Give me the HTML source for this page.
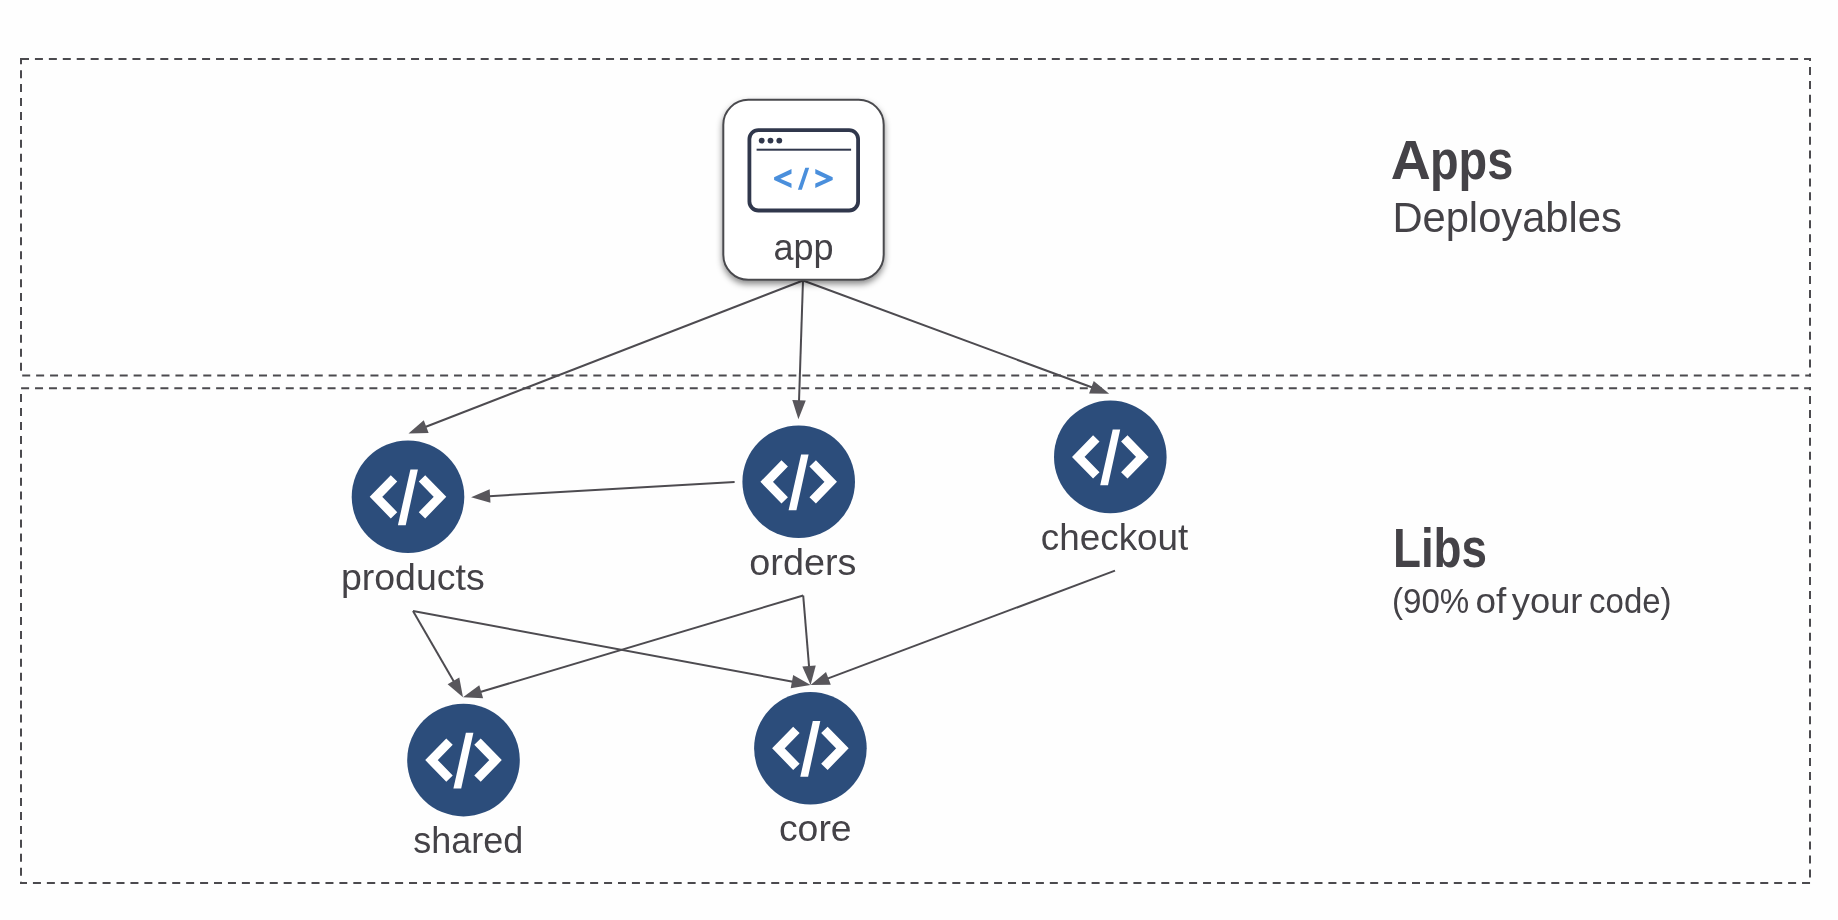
<!DOCTYPE html>
<html><head><meta charset="utf-8"><style>
html,body{margin:0;padding:0;background:#fefefe;overflow:hidden}
svg{display:block}
text{font-family:"Liberation Sans",sans-serif}
.tx{filter:url(#nf)}
</style></head><body>
<svg width="1838" height="920" viewBox="0 0 1838 920">
<defs><filter id="sh" x="-20%" y="-20%" width="140%" height="140%"><feDropShadow dx="0" dy="3.5" stdDeviation="3" flood-color="#000" flood-opacity="0.45"/></filter><filter id="nf"><feOffset dx="0" dy="0"/></filter></defs>
<rect x="0" y="0" width="1838" height="920" fill="#fefefe"/>
<path d="M21.00 59H29.00M34.93 59H42.93M48.86 59H56.86M62.79 59H70.79M76.72 59H84.72M90.65 59H98.65M104.58 59H112.58M118.51 59H126.51M132.44 59H140.44M146.37 59H154.37M160.30 59H168.30M174.23 59H182.23M188.16 59H196.16M202.09 59H210.09M216.02 59H224.02M229.95 59H237.95M243.88 59H251.88M257.81 59H265.81M271.74 59H279.74M285.67 59H293.67M299.60 59H307.60M313.53 59H321.53M327.46 59H335.46M341.39 59H349.39M355.32 59H363.32M369.25 59H377.25M383.18 59H391.18M397.11 59H405.11M411.04 59H419.04M424.97 59H432.97M438.90 59H446.90M452.83 59H460.83M466.76 59H474.76M480.69 59H488.69M494.62 59H502.62M508.55 59H516.55M522.48 59H530.48M536.41 59H544.41M550.34 59H558.34M564.27 59H572.27M578.20 59H586.20M592.13 59H600.13M606.06 59H614.06M619.99 59H627.99M633.92 59H641.92M647.85 59H655.85M661.78 59H669.78M675.71 59H683.71M689.64 59H697.64M703.57 59H711.57M717.50 59H725.50M731.43 59H739.43M745.36 59H753.36M759.29 59H767.29M773.22 59H781.22M787.15 59H795.15M801.08 59H809.08M815.01 59H823.01M828.94 59H836.94M842.87 59H850.87M856.80 59H864.80M870.73 59H878.73M884.66 59H892.66M898.59 59H906.59M912.52 59H920.52M926.45 59H934.45M940.38 59H948.38M954.31 59H962.31M968.24 59H976.24M982.17 59H990.17M996.10 59H1004.10M1010.03 59H1018.03M1023.96 59H1031.96M1037.89 59H1045.89M1051.82 59H1059.82M1065.75 59H1073.75M1079.68 59H1087.68M1093.61 59H1101.61M1107.54 59H1115.54M1121.47 59H1129.47M1135.40 59H1143.40M1149.33 59H1157.33M1163.26 59H1171.26M1177.19 59H1185.19M1191.12 59H1199.12M1205.05 59H1213.05M1218.98 59H1226.98M1232.91 59H1240.91M1246.84 59H1254.84M1260.77 59H1268.77M1274.70 59H1282.70M1288.63 59H1296.63M1302.56 59H1310.56M1316.49 59H1324.49M1330.42 59H1338.42M1344.35 59H1352.35M1358.28 59H1366.28M1372.21 59H1380.21M1386.14 59H1394.14M1400.07 59H1408.07M1414.00 59H1422.00M1427.93 59H1435.93M1441.86 59H1449.86M1455.79 59H1463.79M1469.72 59H1477.72M1483.65 59H1491.65M1497.58 59H1505.58M1511.51 59H1519.51M1525.44 59H1533.44M1539.37 59H1547.37M1553.30 59H1561.30M1567.23 59H1575.23M1581.16 59H1589.16M1595.09 59H1603.09M1609.02 59H1617.02M1622.95 59H1630.95M1636.88 59H1644.88M1650.81 59H1658.81M1664.74 59H1672.74M1678.67 59H1686.67M1692.60 59H1700.60M1706.53 59H1714.53M1720.46 59H1728.46M1734.39 59H1742.39M1748.32 59H1756.32M1762.25 59H1770.25M1776.18 59H1784.18M1790.11 59H1798.11M1804.04 59H1811.00" stroke="#4b4a4e" stroke-width="2" fill="none"/>
<path d="M1810 58.00V61.07M1810 67.00V75.00M1810 80.93V88.93M1810 94.86V102.86M1810 108.79V116.79M1810 122.72V130.72M1810 136.65V144.65M1810 150.58V158.58M1810 164.51V172.51M1810 178.44V186.44M1810 192.37V200.37M1810 206.30V214.30M1810 220.23V228.23M1810 234.16V242.16M1810 248.09V256.09M1810 262.02V270.02M1810 275.95V283.95M1810 289.88V297.88M1810 303.81V311.81M1810 317.74V325.74M1810 331.67V339.67M1810 345.60V353.60M1810 359.53V367.53M1810 373.46V376.60" stroke="#4b4a4e" stroke-width="2" fill="none"/>
<path d="M22.20 375.6H30.20M36.13 375.6H44.13M50.06 375.6H58.06M63.99 375.6H71.99M77.92 375.6H85.92M91.85 375.6H99.85M105.78 375.6H113.78M119.71 375.6H127.71M133.64 375.6H141.64M147.57 375.6H155.57M161.50 375.6H169.50M175.43 375.6H183.43M189.36 375.6H197.36M203.29 375.6H211.29M217.22 375.6H225.22M231.15 375.6H239.15M245.08 375.6H253.08M259.01 375.6H267.01M272.94 375.6H280.94M286.87 375.6H294.87M300.80 375.6H308.80M314.73 375.6H322.73M328.66 375.6H336.66M342.59 375.6H350.59M356.52 375.6H364.52M370.45 375.6H378.45M384.38 375.6H392.38M398.31 375.6H406.31M412.24 375.6H420.24M426.17 375.6H434.17M440.10 375.6H448.10M454.03 375.6H462.03M467.96 375.6H475.96M481.89 375.6H489.89M495.82 375.6H503.82M509.75 375.6H517.75M523.68 375.6H531.68M537.61 375.6H545.61M551.54 375.6H559.54M565.47 375.6H573.47M579.40 375.6H587.40M593.33 375.6H601.33M607.26 375.6H615.26M621.19 375.6H629.19M635.12 375.6H643.12M649.05 375.6H657.05M662.98 375.6H670.98M676.91 375.6H684.91M690.84 375.6H698.84M704.77 375.6H712.77M718.70 375.6H726.70M732.63 375.6H740.63M746.56 375.6H754.56M760.49 375.6H768.49M774.42 375.6H782.42M788.35 375.6H796.35M802.28 375.6H810.28M816.21 375.6H824.21M830.14 375.6H838.14M844.07 375.6H852.07M858.00 375.6H866.00M871.93 375.6H879.93M885.86 375.6H893.86M899.79 375.6H907.79M913.72 375.6H921.72M927.65 375.6H935.65M941.58 375.6H949.58M955.51 375.6H963.51M969.44 375.6H977.44M983.37 375.6H991.37M997.30 375.6H1005.30M1011.23 375.6H1019.23M1025.16 375.6H1033.16M1039.09 375.6H1047.09M1053.02 375.6H1061.02M1066.95 375.6H1074.95M1080.88 375.6H1088.88M1094.81 375.6H1102.81M1108.74 375.6H1116.74M1122.67 375.6H1130.67M1136.60 375.6H1144.60M1150.53 375.6H1158.53M1164.46 375.6H1172.46M1178.39 375.6H1186.39M1192.32 375.6H1200.32M1206.25 375.6H1214.25M1220.18 375.6H1228.18M1234.11 375.6H1242.11M1248.04 375.6H1256.04M1261.97 375.6H1269.97M1275.90 375.6H1283.90M1289.83 375.6H1297.83M1303.76 375.6H1311.76M1317.69 375.6H1325.69M1331.62 375.6H1339.62M1345.55 375.6H1353.55M1359.48 375.6H1367.48M1373.41 375.6H1381.41M1387.34 375.6H1395.34M1401.27 375.6H1409.27M1415.20 375.6H1423.20M1429.13 375.6H1437.13M1443.06 375.6H1451.06M1456.99 375.6H1464.99M1470.92 375.6H1478.92M1484.85 375.6H1492.85M1498.78 375.6H1506.78M1512.71 375.6H1520.71M1526.64 375.6H1534.64M1540.57 375.6H1548.57M1554.50 375.6H1562.50M1568.43 375.6H1576.43M1582.36 375.6H1590.36M1596.29 375.6H1604.29M1610.22 375.6H1618.22M1624.15 375.6H1632.15M1638.08 375.6H1646.08M1652.01 375.6H1660.01M1665.94 375.6H1673.94M1679.87 375.6H1687.87M1693.80 375.6H1701.80M1707.73 375.6H1715.73M1721.66 375.6H1729.66M1735.59 375.6H1743.59M1749.52 375.6H1757.52M1763.45 375.6H1771.45M1777.38 375.6H1785.38M1791.31 375.6H1799.31M1805.24 375.6H1811.00" stroke="#4b4a4e" stroke-width="2" fill="none"/>
<path d="M21 58.00V64.26M21 70.19V78.19M21 84.12V92.12M21 98.05V106.05M21 111.98V119.98M21 125.91V133.91M21 139.84V147.84M21 153.77V161.77M21 167.70V175.70M21 181.63V189.63M21 195.56V203.56M21 209.49V217.49M21 223.42V231.42M21 237.35V245.35M21 251.28V259.28M21 265.21V273.21M21 279.14V287.14M21 293.07V301.07M21 307.00V315.00M21 320.93V328.93M21 334.86V342.86M21 348.79V356.79M21 362.72V370.72" stroke="#4b4a4e" stroke-width="2" fill="none"/>
<path d="M21.10 388.2H29.10M35.03 388.2H43.03M48.96 388.2H56.96M62.89 388.2H70.89M76.82 388.2H84.82M90.75 388.2H98.75M104.68 388.2H112.68M118.61 388.2H126.61M132.54 388.2H140.54M146.47 388.2H154.47M160.40 388.2H168.40M174.33 388.2H182.33M188.26 388.2H196.26M202.19 388.2H210.19M216.12 388.2H224.12M230.05 388.2H238.05M243.98 388.2H251.98M257.91 388.2H265.91M271.84 388.2H279.84M285.77 388.2H293.77M299.70 388.2H307.70M313.63 388.2H321.63M327.56 388.2H335.56M341.49 388.2H349.49M355.42 388.2H363.42M369.35 388.2H377.35M383.28 388.2H391.28M397.21 388.2H405.21M411.14 388.2H419.14M425.07 388.2H433.07M439.00 388.2H447.00M452.93 388.2H460.93M466.86 388.2H474.86M480.79 388.2H488.79M494.72 388.2H502.72M508.65 388.2H516.65M522.58 388.2H530.58M536.51 388.2H544.51M550.44 388.2H558.44M564.37 388.2H572.37M578.30 388.2H586.30M592.23 388.2H600.23M606.16 388.2H614.16M620.09 388.2H628.09M634.02 388.2H642.02M647.95 388.2H655.95M661.88 388.2H669.88M675.81 388.2H683.81M689.74 388.2H697.74M703.67 388.2H711.67M717.60 388.2H725.60M731.53 388.2H739.53M745.46 388.2H753.46M759.39 388.2H767.39M773.32 388.2H781.32M787.25 388.2H795.25M801.18 388.2H809.18M815.11 388.2H823.11M829.04 388.2H837.04M842.97 388.2H850.97M856.90 388.2H864.90M870.83 388.2H878.83M884.76 388.2H892.76M898.69 388.2H906.69M912.62 388.2H920.62M926.55 388.2H934.55M940.48 388.2H948.48M954.41 388.2H962.41M968.34 388.2H976.34M982.27 388.2H990.27M996.20 388.2H1004.20M1010.13 388.2H1018.13M1024.06 388.2H1032.06M1037.99 388.2H1045.99M1051.92 388.2H1059.92M1065.85 388.2H1073.85M1079.78 388.2H1087.78M1093.71 388.2H1101.71M1107.64 388.2H1115.64M1121.57 388.2H1129.57M1135.50 388.2H1143.50M1149.43 388.2H1157.43M1163.36 388.2H1171.36M1177.29 388.2H1185.29M1191.22 388.2H1199.22M1205.15 388.2H1213.15M1219.08 388.2H1227.08M1233.01 388.2H1241.01M1246.94 388.2H1254.94M1260.87 388.2H1268.87M1274.80 388.2H1282.80M1288.73 388.2H1296.73M1302.66 388.2H1310.66M1316.59 388.2H1324.59M1330.52 388.2H1338.52M1344.45 388.2H1352.45M1358.38 388.2H1366.38M1372.31 388.2H1380.31M1386.24 388.2H1394.24M1400.17 388.2H1408.17M1414.10 388.2H1422.10M1428.03 388.2H1436.03M1441.96 388.2H1449.96M1455.89 388.2H1463.89M1469.82 388.2H1477.82M1483.75 388.2H1491.75M1497.68 388.2H1505.68M1511.61 388.2H1519.61M1525.54 388.2H1533.54M1539.47 388.2H1547.47M1553.40 388.2H1561.40M1567.33 388.2H1575.33M1581.26 388.2H1589.26M1595.19 388.2H1603.19M1609.12 388.2H1617.12M1623.05 388.2H1631.05M1636.98 388.2H1644.98M1650.91 388.2H1658.91M1664.84 388.2H1672.84M1678.77 388.2H1686.77M1692.70 388.2H1700.70M1706.63 388.2H1714.63M1720.56 388.2H1728.56M1734.49 388.2H1742.49M1748.42 388.2H1756.42M1762.35 388.2H1770.35M1776.28 388.2H1784.28M1790.21 388.2H1798.21M1804.14 388.2H1811.00" stroke="#4b4a4e" stroke-width="2" fill="none"/>
<path d="M1810 387.20V390.18M1810 396.10V404.10M1810 410.02V418.02M1810 423.94V431.94M1810 437.86V445.86M1810 451.78V459.78M1810 465.70V473.70M1810 479.62V487.62M1810 493.54V501.54M1810 507.46V515.46M1810 521.38V529.38M1810 535.30V543.30M1810 549.22V557.22M1810 563.14V571.14M1810 577.06V585.06M1810 590.98V598.98M1810 604.90V612.90M1810 618.82V626.82M1810 632.74V640.74M1810 646.66V654.66M1810 660.58V668.58M1810 674.50V682.50M1810 688.42V696.42M1810 702.34V710.34M1810 716.26V724.26M1810 730.18V738.18M1810 744.10V752.10M1810 758.02V766.02M1810 771.94V779.94M1810 785.86V793.86M1810 799.78V807.78M1810 813.70V821.70M1810 827.62V835.62M1810 841.54V849.54M1810 855.46V863.46M1810 869.38V877.38" stroke="#4b4a4e" stroke-width="2" fill="none"/>
<path d="M20.00 883H27.00M32.93 883H40.93M46.86 883H54.86M60.79 883H68.79M74.72 883H82.72M88.65 883H96.65M102.58 883H110.58M116.51 883H124.51M130.44 883H138.44M144.37 883H152.37M158.30 883H166.30M172.23 883H180.23M186.16 883H194.16M200.09 883H208.09M214.02 883H222.02M227.95 883H235.95M241.88 883H249.88M255.81 883H263.81M269.74 883H277.74M283.67 883H291.67M297.60 883H305.60M311.53 883H319.53M325.46 883H333.46M339.39 883H347.39M353.32 883H361.32M367.25 883H375.25M381.18 883H389.18M395.11 883H403.11M409.04 883H417.04M422.97 883H430.97M436.90 883H444.90M450.83 883H458.83M464.76 883H472.76M478.69 883H486.69M492.62 883H500.62M506.55 883H514.55M520.48 883H528.48M534.41 883H542.41M548.34 883H556.34M562.27 883H570.27M576.20 883H584.20M590.13 883H598.13M604.06 883H612.06M617.99 883H625.99M631.92 883H639.92M645.85 883H653.85M659.78 883H667.78M673.71 883H681.71M687.64 883H695.64M701.57 883H709.57M715.50 883H723.50M729.43 883H737.43M743.36 883H751.36M757.29 883H765.29M771.22 883H779.22M785.15 883H793.15M799.08 883H807.08M813.01 883H821.01M826.94 883H834.94M840.87 883H848.87M854.80 883H862.80M868.73 883H876.73M882.66 883H890.66M896.59 883H904.59M910.52 883H918.52M924.45 883H932.45M938.38 883H946.38M952.31 883H960.31M966.24 883H974.24M980.17 883H988.17M994.10 883H1002.10M1008.03 883H1016.03M1021.96 883H1029.96M1035.89 883H1043.89M1049.82 883H1057.82M1063.75 883H1071.75M1077.68 883H1085.68M1091.61 883H1099.61M1105.54 883H1113.54M1119.47 883H1127.47M1133.40 883H1141.40M1147.33 883H1155.33M1161.26 883H1169.26M1175.19 883H1183.19M1189.12 883H1197.12M1203.05 883H1211.05M1216.98 883H1224.98M1230.91 883H1238.91M1244.84 883H1252.84M1258.77 883H1266.77M1272.70 883H1280.70M1286.63 883H1294.63M1300.56 883H1308.56M1314.49 883H1322.49M1328.42 883H1336.42M1342.35 883H1350.35M1356.28 883H1364.28M1370.21 883H1378.21M1384.14 883H1392.14M1398.07 883H1406.07M1412.00 883H1420.00M1425.93 883H1433.93M1439.86 883H1447.86M1453.79 883H1461.79M1467.72 883H1475.72M1481.65 883H1489.65M1495.58 883H1503.58M1509.51 883H1517.51M1523.44 883H1531.44M1537.37 883H1545.37M1551.30 883H1559.30M1565.23 883H1573.23M1579.16 883H1587.16M1593.09 883H1601.09M1607.02 883H1615.02M1620.95 883H1628.95M1634.88 883H1642.88M1648.81 883H1656.81M1662.74 883H1670.74M1676.67 883H1684.67M1690.60 883H1698.60M1704.53 883H1712.53M1718.46 883H1726.46M1732.39 883H1740.39M1746.32 883H1754.32M1760.25 883H1768.25M1774.18 883H1782.18M1788.11 883H1796.11M1802.04 883H1810.04" stroke="#4b4a4e" stroke-width="2" fill="none"/>
<path d="M21 394.10V402.10M21 408.03V416.03M21 421.96V429.96M21 435.89V443.89M21 449.82V457.82M21 463.75V471.75M21 477.68V485.68M21 491.61V499.61M21 505.54V513.54M21 519.47V527.47M21 533.40V541.40M21 547.33V555.33M21 561.26V569.26M21 575.19V583.19M21 589.12V597.12M21 603.05V611.05M21 616.98V624.98M21 630.91V638.91M21 644.84V652.84M21 658.77V666.77M21 672.70V680.70M21 686.63V694.63M21 700.56V708.56M21 714.49V722.49M21 728.42V736.42M21 742.35V750.35M21 756.28V764.28M21 770.21V778.21M21 784.14V792.14M21 798.07V806.07M21 812.00V820.00M21 825.93V833.93M21 839.86V847.86M21 853.79V861.79M21 867.72V875.72M21 881.65V884.00" stroke="#4b4a4e" stroke-width="2" fill="none"/>
<line x1="803.00" y1="280.50" x2="425.28" y2="426.99" stroke="#4d4b50" stroke-width="2"/><polygon points="408.50,433.50 423.77,420.34 428.66,432.92" fill="#58565b"/>
<line x1="803.00" y1="280.50" x2="799.00" y2="401.31" stroke="#4d4b50" stroke-width="2"/><polygon points="798.40,419.30 792.28,400.09 805.78,400.53" fill="#58565b"/>
<line x1="803.00" y1="280.50" x2="1092.32" y2="387.55" stroke="#4d4b50" stroke-width="2"/><polygon points="1109.20,393.80 1089.04,393.54 1093.72,380.88" fill="#58565b"/>
<line x1="734.60" y1="481.90" x2="489.07" y2="496.16" stroke="#4d4b50" stroke-width="2"/><polygon points="471.10,497.20 489.68,489.36 490.46,502.84" fill="#58565b"/>
<line x1="413.00" y1="611.00" x2="453.97" y2="681.63" stroke="#4d4b50" stroke-width="2"/><polygon points="463.00,697.20 447.63,684.15 459.31,677.38" fill="#58565b"/>
<line x1="413.00" y1="611.00" x2="792.90" y2="681.71" stroke="#4d4b50" stroke-width="2"/><polygon points="810.60,685.00 790.69,688.16 793.16,674.89" fill="#58565b"/>
<line x1="803.20" y1="595.50" x2="480.25" y2="692.04" stroke="#4d4b50" stroke-width="2"/><polygon points="463.00,697.20 479.27,685.29 483.14,698.23" fill="#58565b"/>
<line x1="803.20" y1="595.50" x2="809.12" y2="667.06" stroke="#4d4b50" stroke-width="2"/><polygon points="810.60,685.00 802.31,666.62 815.76,665.51" fill="#58565b"/>
<line x1="1115.00" y1="570.60" x2="827.45" y2="678.67" stroke="#4d4b50" stroke-width="2"/><polygon points="810.60,685.00 826.01,672.00 830.76,684.63" fill="#58565b"/>
<rect x="723.3" y="99.8" width="160.4" height="180" rx="25" ry="25" fill="#fff" stroke="#4a4a4e" stroke-width="2" filter="url(#sh)"/>
<rect x="749.4" y="130.1" width="108.7" height="80.4" rx="9" ry="9" fill="none" stroke="#30374c" stroke-width="3.8"/>
<circle cx="761.7" cy="140.6" r="2.9" fill="#30374c"/>
<circle cx="770.5" cy="140.6" r="2.9" fill="#30374c"/>
<circle cx="779.3" cy="140.6" r="2.9" fill="#30374c"/>
<rect x="756.6" y="148.7" width="94.5" height="2" fill="#30374c"/>
<polygon points="791.5,169.1 774.1,177.3 774.1,180.1 791.5,188.1 791.5,183.6 780.4,178.7 791.5,173.7" fill="#4a8fdc"/>
<polygon points="815.3,169.1 832.7,177.3 832.7,180.1 815.3,188.1 815.3,183.6 826.4,178.7 815.3,173.7" fill="#4a8fdc"/>
<polygon points="805.3,167.8 809.2,167.8 801.8,189.8 797.9,189.8" fill="#4a8fdc"/>
<circle cx="408" cy="496.8" r="56.3" fill="#2c4d7b"/><polyline points="394,478.3 376,496.8 394,515.3" fill="none" stroke="#fff" stroke-width="9" stroke-linejoin="miter"/><polyline points="422,478.3 440,496.8 422,515.3" fill="none" stroke="#fff" stroke-width="9" stroke-linejoin="miter"/><polygon points="410.4,469.5 417.9,469.5 405.7,525.2 397.9,525.2" fill="#fff"/>
<circle cx="798.7" cy="481.8" r="56.3" fill="#2c4d7b"/><polyline points="784.7,463.3 766.7,481.8 784.7,500.3" fill="none" stroke="#fff" stroke-width="9" stroke-linejoin="miter"/><polyline points="812.7,463.3 830.7,481.8 812.7,500.3" fill="none" stroke="#fff" stroke-width="9" stroke-linejoin="miter"/><polygon points="801.1,454.5 808.6,454.5 796.4000000000001,510.2 788.6,510.2" fill="#fff"/>
<circle cx="1110.3" cy="456.9" r="56.3" fill="#2c4d7b"/><polyline points="1096.3,438.4 1078.3,456.9 1096.3,475.4" fill="none" stroke="#fff" stroke-width="9" stroke-linejoin="miter"/><polyline points="1124.3,438.4 1142.3,456.9 1124.3,475.4" fill="none" stroke="#fff" stroke-width="9" stroke-linejoin="miter"/><polygon points="1112.7,429.59999999999997 1120.2,429.59999999999997 1108.0,485.29999999999995 1100.2,485.29999999999995" fill="#fff"/>
<circle cx="463.5" cy="760.1" r="56.3" fill="#2c4d7b"/><polyline points="449.5,741.6 431.5,760.1 449.5,778.6" fill="none" stroke="#fff" stroke-width="9" stroke-linejoin="miter"/><polyline points="477.5,741.6 495.5,760.1 477.5,778.6" fill="none" stroke="#fff" stroke-width="9" stroke-linejoin="miter"/><polygon points="465.9,732.8000000000001 473.4,732.8000000000001 461.2,788.5 453.4,788.5" fill="#fff"/>
<circle cx="810.4" cy="748.3" r="56.3" fill="#2c4d7b"/><polyline points="796.4,729.8 778.4,748.3 796.4,766.8" fill="none" stroke="#fff" stroke-width="9" stroke-linejoin="miter"/><polyline points="824.4,729.8 842.4,748.3 824.4,766.8" fill="none" stroke="#fff" stroke-width="9" stroke-linejoin="miter"/><polygon points="812.8,721.0 820.3,721.0 808.1,776.6999999999999 800.3,776.6999999999999" fill="#fff"/>
<g class="tx">
<text x="773.39" y="259.6" font-size="36" font-weight="400" fill="#444247" textLength="60.11" lengthAdjust="spacingAndGlyphs">app</text>
<text x="340.93" y="589.8" font-size="36" font-weight="400" fill="#444247" textLength="143.75" lengthAdjust="spacingAndGlyphs">products</text>
<text x="749.35" y="575" font-size="36" font-weight="400" fill="#444247" textLength="107.01" lengthAdjust="spacingAndGlyphs">orders</text>
<text x="1040.89" y="549.8" font-size="36" font-weight="400" fill="#444247" textLength="147.34" lengthAdjust="spacingAndGlyphs">checkout</text>
<text x="413.16" y="852.7" font-size="36" font-weight="400" fill="#444247" textLength="109.99" lengthAdjust="spacingAndGlyphs">shared</text>
<text x="778.96" y="840.9" font-size="36" font-weight="400" fill="#444247" textLength="72.64" lengthAdjust="spacingAndGlyphs">core</text>
<text x="1390.63" y="179" font-size="56" font-weight="700" fill="#444247" textLength="40.04" lengthAdjust="spacingAndGlyphs">A</text>
<text x="1429.99" y="179" font-size="56" font-weight="700" fill="#444247" textLength="83.3" lengthAdjust="spacingAndGlyphs">pps</text>
<text x="1392.4" y="232" font-size="43" font-weight="400" fill="#444247" textLength="229.43" lengthAdjust="spacingAndGlyphs">Deployables</text>
<text x="1392.94" y="566.9" font-size="56" font-weight="700" fill="#444247" textLength="94.07" lengthAdjust="spacingAndGlyphs">Libs</text>
<text x="1392.05" y="612.5" font-size="35" font-weight="400" fill="#444247" textLength="77.26" lengthAdjust="spacingAndGlyphs">(90%</text>
<text x="1475.51" y="612.5" font-size="35" font-weight="400" fill="#444247" textLength="30.8" lengthAdjust="spacingAndGlyphs">of</text>
<text x="1511.84" y="612.5" font-size="35" font-weight="400" fill="#444247" textLength="70.64" lengthAdjust="spacingAndGlyphs">your</text>
<text x="1589.06" y="612.5" font-size="35" font-weight="400" fill="#444247" textLength="82.55" lengthAdjust="spacingAndGlyphs">code)</text>
</g>
</svg>
</body></html>
